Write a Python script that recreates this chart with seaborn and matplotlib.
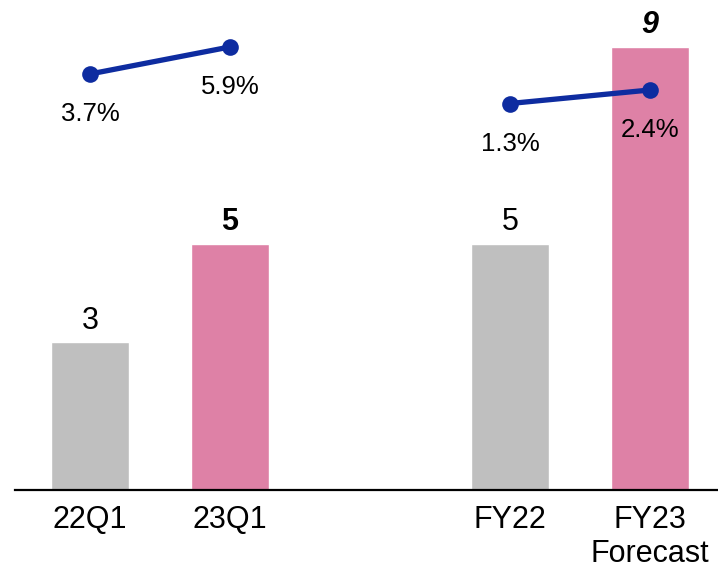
import matplotlib
matplotlib.use("Agg")
import matplotlib.pyplot as plt
import seaborn as sns
import pandas as pd

# ---- data ----
categories = ["22Q1", "23Q1", "FY22", "FY23\nForecast"]
values = [3, 5, 5, 9]
group1_cats = ["22Q1", "23Q1"]
group1_pct = [3.7, 5.9]
group2_cats = ["FY22", "FY23\nForecast"]
group2_pct = [1.3, 2.4]

# ---- styles ----
bar_colors = ["#BFBFBF", "#DE81A6", "#BFBFBF", "#DE81A6"]
label_weights = ["normal", "bold", "normal", "bold"]
label_styles = ["normal", "normal", "normal", "italic"]
line_color = "#0E2CA0"
order = ["22Q1", "23Q1", "", "FY22", "FY23\nForecast"]

sns.set_style("white")
plt.rcParams["font.family"] = ["Liberation Sans", "DejaVu Sans"]
plt.rcParams["text.color"] = "black"
plt.rcParams["xtick.color"] = "black"
plt.rcParams["xtick.labelcolor"] = "black"

fig = plt.figure(figsize=(7.18, 5.75), dpi=100)
ax = fig.add_axes([15 / 718, 85 / 575, 703 / 718, 480 / 575])

df = pd.DataFrame({"cat": categories, "val": values})
sns.barplot(data=df, x="cat", y="val", hue="cat", order=order,
            palette=dict(zip(categories, bar_colors)), width=0.56,
            legend=False, ax=ax, saturation=1)

ax.set_ylim(0, 480 / 49.2)
ax.set_xlim(-0.536, 4.486)
ax.set_xlabel("")
ax.set_ylabel("")
ax.set_yticks([])
for s in ["top", "left", "right"]:
    ax.spines[s].set_visible(False)
ax.spines["bottom"].set_color("black")
ax.spines["bottom"].set_linewidth(1.6)
ax.tick_params(axis="x", length=0, pad=11, labelsize=22, labelcolor="black")
for t in ax.get_xticklabels():
    t.set_linespacing(1.15)

for c, v, w, st in zip(categories, values, label_weights, label_styles):
    ax.annotate(f"{v}", xy=(order.index(c), v), xytext=(0, 10),
                textcoords="offset points", ha="center", va="baseline",
                fontsize=22, fontweight=w, fontstyle=st, color="black")

ax2 = ax.twinx()
for cats, pcts in [(group1_cats, group1_pct), (group2_cats, group2_pct)]:
    xs = [order.index(c) for c in cats]
    sns.lineplot(x=xs, y=pcts, ax=ax2, color=line_color, linewidth=3.8,
                 marker="o", markersize=12, markeredgewidth=0)
    for x, p in zip(xs, pcts):
        ax2.annotate(f"{p}%", xy=(x, p), xytext=(0, -34),
                     textcoords="offset points", ha="center", va="baseline",
                     fontsize=18.5, color="black")

ax2.set_ylim(-(490 - 119.5) / 12.3, (119.5 - 10) / 12.3)
ax2.set_xlim(-0.536, 4.486)
ax2.set_yticks([])
ax2.set_ylabel("")
for s in ax2.spines.values():
    s.set_visible(False)

fig.savefig("out.png", dpi=100)
